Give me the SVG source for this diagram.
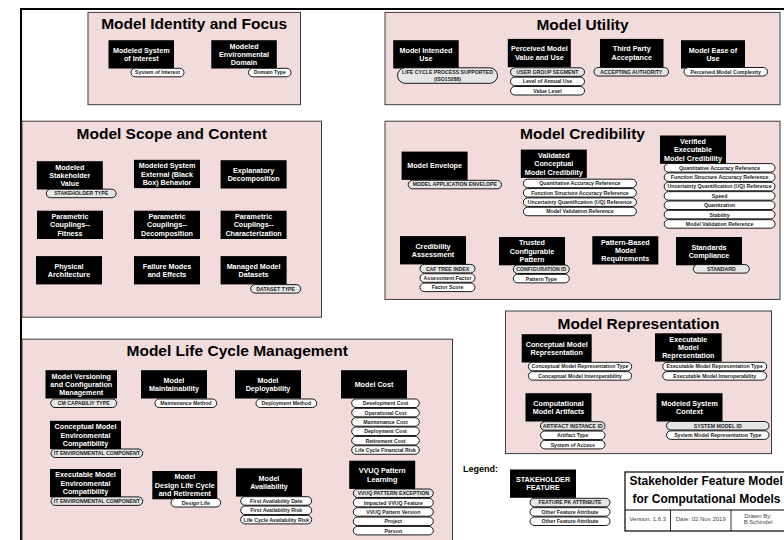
<svg xmlns="http://www.w3.org/2000/svg" width="784" height="540" viewBox="0 0 784 540">
<style>
.pn{fill:#f2dcdb;stroke:#3c3c3c;stroke-width:1}
.tt{font-family:'Liberation Sans',Arial,sans-serif;font-weight:bold;font-size:15.5px;text-anchor:middle;fill:#000}
.nb{fill:#000}
.nt{font-family:'Liberation Sans',Arial,sans-serif;font-weight:bold;font-size:7.2px;text-anchor:middle;fill:#fff}
.pw{fill:#fff;stroke:#000;stroke-width:0.9}
.pg{fill:#e6e6e6;stroke:#000;stroke-width:0.9}
.pt{font-family:'Liberation Sans',Arial,sans-serif;font-weight:bold;font-size:5.2px;text-anchor:middle;fill:#1a1a1a}
.tb{font-family:'Liberation Sans',Arial,sans-serif;font-size:6px;text-anchor:middle;fill:#444}
.bt{font-family:'Liberation Sans',Arial,sans-serif;font-weight:bold;font-size:12px;fill:#000}
</style>
<rect width="784" height="540" fill="#fff"/>
<g id="frame">
<line x1="20" y1="9" x2="784" y2="9" stroke="#000" stroke-width="2"/>
<line x1="21" y1="8" x2="21" y2="540" stroke="#000" stroke-width="2"/>
</g>
<g id="panels">
<rect class="pn" x="88" y="12.4" width="212.5" height="92.3"/>
<text class="tt" x="194.2" y="29">Model Identity and Focus</text>
<rect class="pn" x="385" y="12.4" width="395" height="92.3"/>
<text class="tt" x="582.5" y="29.5">Model Utility</text>
<rect class="pn" x="22" y="121.2" width="299.5" height="196"/>
<text class="tt" x="171.7" y="138.5">Model Scope and Content</text>
<rect class="pn" x="385" y="121.2" width="395" height="178.2"/>
<text class="tt" x="582.5" y="138.5">Model Credibility</text>
<rect class="pn" x="505.5" y="311" width="266" height="142.6"/>
<text class="tt" x="638.5" y="328.5">Model Representation</text>
<rect class="pn" x="22" y="339.2" width="430.5" height="205"/>
<text class="tt" x="237.2" y="356">Model Life Cycle Management</text>
</g>
<g id="connectors"/>

<g id="n-modeled-system-of-interest">
<rect class="nb" x="108.5" y="40.2" width="65.5" height="28.3"/>
<text class="nt" x="141.25"><tspan x="141.25" y="52.75">Modeled System</tspan><tspan x="141.25" y="61.15">of Interest</tspan></text>
<rect class="pw" x="131" y="68.3" width="53" height="8.5" rx="4.25"/>
<text class="pt" x="157.5" y="74.45">System of Interest</text>
</g>
<g id="n-modeled-environmental-domain">
<rect class="nb" x="211.3" y="40.2" width="65.5" height="28.3"/>
<text class="nt"><tspan x="244.05" y="48.55">Modeled</tspan><tspan x="244.05" y="56.95">Environmental</tspan><tspan x="244.05" y="65.35">Domain</tspan></text>
<rect class="pw" x="248.5" y="68.3" width="42.5" height="8.5" rx="4.25"/>
<text class="pt" x="269.75" y="74.45">Domain Type</text>
</g>

<g id="n-model-intended-use">
<rect class="nb" x="393.2" y="40.2" width="65.5" height="28.3"/>
<text class="nt"><tspan x="425.95" y="52.75">Model Intended</tspan><tspan x="425.95" y="61.15">Use</tspan></text>
<rect class="pg" x="397.5" y="67.8" width="100" height="15.5" rx="7.75"/>
<text class="pt"><tspan x="447.5" y="73.5">LIFE CYCLE PROCESS SUPPORTED</tspan><tspan x="447.5" y="80.8">(ISO15288)</tspan></text>
</g>
<g id="n-perceived-model-value">
<rect class="nb" x="507.8" y="38.9" width="63" height="28.3"/>
<text class="nt"><tspan x="539.3" y="51.45">Perceived Model</tspan><tspan x="539.3" y="59.85">Value and Use</tspan></text>
<rect class="pg" x="510.5" y="67.8" width="74" height="8.5" rx="4.25"/>
<text class="pt" x="547.5" y="73.95">USER GROUP SEGMENT</text>
<rect class="pw" x="510.5" y="77.15" width="74" height="8.5" rx="4.25"/>
<text class="pt" x="547.5" y="83.3">Level of Annual Use</text>
<rect class="pw" x="510.5" y="86.5" width="74" height="8.5" rx="4.25"/>
<text class="pt" x="547.5" y="92.65">Value Level</text>
</g>
<g id="n-third-party-acceptance">
<rect class="nb" x="600" y="38.9" width="63.5" height="28.3"/>
<text class="nt"><tspan x="631.75" y="51.45">Third Party</tspan><tspan x="631.75" y="59.85">Acceptance</tspan></text>
<rect class="pg" x="594" y="67.5" width="74.5" height="8.5" rx="4.25"/>
<text class="pt" x="631.25" y="73.65">ACCEPTING AUTHORITY</text>
</g>
<g id="n-model-ease-of-use">
<rect class="nb" x="681" y="40.2" width="64" height="28.3"/>
<text class="nt"><tspan x="713" y="52.75">Model Ease of</tspan><tspan x="713" y="61.15">Use</tspan></text>
<rect class="pw" x="684" y="67.5" width="83.5" height="8.5" rx="4.25"/>
<text class="pt" x="725.75" y="73.65">Perceived Model Complexity</text>
</g>

<g id="n-modeled-stakeholder-value">
<rect class="nb" x="36.8" y="161.2" width="66" height="28.3"/>
<text class="nt"><tspan x="69.8" y="169.55">Modeled</tspan><tspan x="69.8" y="177.95">Stakeholder</tspan><tspan x="69.8" y="186.35">Value</tspan></text>
<rect class="pg" x="46.3" y="189.2" width="69.8" height="8.5" rx="4.25"/>
<text class="pt" x="81.2" y="195.35">STAKEHOLDER TYPE</text>
</g>
<g id="n-external-behavior">
<rect class="nb" x="134" y="159.8" width="66" height="28.3"/>
<text class="nt"><tspan x="167" y="168.15">Modeled System</tspan><tspan x="167" y="176.55">External (Black</tspan><tspan x="167" y="184.95">Box) Behavior</tspan></text>
</g>
<g id="n-explanatory-decomposition">
<rect class="nb" x="220.6" y="160.2" width="66" height="28.3"/>
<text class="nt"><tspan x="253.6" y="172.75">Explanatory</tspan><tspan x="253.6" y="181.15">Decomposition</tspan></text>
</g>
<g id="n-pc-fitness">
<rect class="nb" x="37" y="210.7" width="66" height="28.3"/>
<text class="nt"><tspan x="70" y="219.05">Parametric</tspan><tspan x="70" y="227.45">Couplings--</tspan><tspan x="70" y="235.85">Fitness</tspan></text>
</g>
<g id="n-pc-decomposition">
<rect class="nb" x="134" y="210.7" width="66" height="28.3"/>
<text class="nt"><tspan x="167" y="219.05">Parametric</tspan><tspan x="167" y="227.45">Couplings--</tspan><tspan x="167" y="235.85">Decomposition</tspan></text>
</g>
<g id="n-pc-characterization">
<rect class="nb" x="220.6" y="210.7" width="66" height="28.3"/>
<text class="nt"><tspan x="253.6" y="219.05">Parametric</tspan><tspan x="253.6" y="227.45">Couplings--</tspan><tspan x="253.6" y="235.85">Characterization</tspan></text>
</g>
<g id="n-physical-architecture">
<rect class="nb" x="36" y="256.1" width="66" height="28.3"/>
<text class="nt"><tspan x="69" y="268.65">Physical</tspan><tspan x="69" y="277.05">Architecture</tspan></text>
</g>
<g id="n-failure-modes">
<rect class="nb" x="134" y="256.1" width="66" height="28.3"/>
<text class="nt"><tspan x="167" y="268.65">Failure Modes</tspan><tspan x="167" y="277.05">and Effects</tspan></text>
</g>
<g id="n-managed-datasets">
<rect class="nb" x="220.6" y="256.1" width="66" height="28.3"/>
<text class="nt"><tspan x="253.6" y="268.65">Managed Model</tspan><tspan x="253.6" y="277.05">Datasets</tspan></text>
<rect class="pg" x="250.7" y="284.6" width="50" height="8.5" rx="4.25"/>
<text class="pt" x="275.7" y="290.75">DATASET TYPE</text>
</g>

<g id="n-model-envelope">
<rect class="nb" x="401.6" y="151.6" width="66" height="28.3"/>
<text class="nt" x="434.6" y="168.35">Model Envelope</text>
<rect class="pg" x="408.2" y="180.3" width="93.3" height="8.5" rx="4.25"/>
<text class="pt" x="454.85" y="186.45">MODEL APPLICATION ENVELOPE</text>
</g>
<g id="n-validated-conceptual">
<rect class="nb" x="520.8" y="149.6" width="66" height="28.3"/>
<text class="nt"><tspan x="553.8" y="157.95">Validated</tspan><tspan x="553.8" y="166.35">Conceptual</tspan><tspan x="553.8" y="174.75">Model Credibility</tspan></text>
<rect class="pw" x="523.4" y="179.2" width="113" height="8.5" rx="4.25"/>
<text class="pt" x="579.9" y="185.35">Quantitative Accuracy Reference</text>
<rect class="pw" x="523.4" y="188.55" width="113" height="8.5" rx="4.25"/>
<text class="pt" x="579.9" y="194.7">Function Structure Accuracy Reference</text>
<rect class="pw" x="523.4" y="197.9" width="113" height="8.5" rx="4.25"/>
<text class="pt" x="579.9" y="204.05">Uncertainty Quantification (UQ) Reference</text>
<rect class="pw" x="523.4" y="207.25" width="113" height="8.5" rx="4.25"/>
<text class="pt" x="579.9" y="213.4">Model Validation Reference</text>
</g>
<g id="n-verified-executable">
<rect class="nb" x="660" y="135.5" width="66" height="28.3"/>
<text class="nt"><tspan x="693" y="143.85">Verified</tspan><tspan x="693" y="152.25">Executable</tspan><tspan x="693" y="160.65">Model Credibility</tspan></text>
<rect class="pw" x="664.2" y="163.6" width="110.8" height="8.5" rx="4.25"/>
<text class="pt" x="719.6" y="169.75">Quantitative Accuracy Reference</text>
<rect class="pw" x="664.2" y="172.95" width="110.8" height="8.5" rx="4.25"/>
<text class="pt" x="719.6" y="179.1">Function Structure Accuracy Reference</text>
<rect class="pw" x="664.2" y="182.3" width="110.8" height="8.5" rx="4.25"/>
<text class="pt" x="719.6" y="188.45">Uncertainty Quantification (UQ) Reference</text>
<rect class="pw" x="664.2" y="191.65" width="110.8" height="8.5" rx="4.25"/>
<text class="pt" x="719.6" y="197.8">Speed</text>
<rect class="pw" x="664.2" y="201" width="110.8" height="8.5" rx="4.25"/>
<text class="pt" x="719.6" y="207.15">Quantization</text>
<rect class="pw" x="664.2" y="210.35" width="110.8" height="8.5" rx="4.25"/>
<text class="pt" x="719.6" y="216.5">Stability</text>
<rect class="pw" x="664.2" y="219.7" width="110.8" height="8.5" rx="4.25"/>
<text class="pt" x="719.6" y="225.85">Model Validation Reference</text>
</g>
<g id="n-credibility-assessment">
<rect class="nb" x="400" y="236.1" width="66" height="28.3"/>
<text class="nt"><tspan x="433" y="248.65">Credibility</tspan><tspan x="433" y="257.05">Assessment</tspan></text>
<rect class="pg" x="420" y="264.4" width="55" height="8.5" rx="4.25"/>
<text class="pt" x="447.5" y="270.55">CAF TREE INDEX</text>
<rect class="pw" x="420" y="273.75" width="55" height="8.5" rx="4.25"/>
<text class="pt" x="447.5" y="279.9">Assessment Factor</text>
<rect class="pw" x="420" y="283.1" width="55" height="8.5" rx="4.25"/>
<text class="pt" x="447.5" y="289.25">Factor Score</text>
</g>
<g id="n-trusted-pattern">
<rect class="nb" x="499" y="237" width="66" height="28.3"/>
<text class="nt"><tspan x="532" y="245.35">Trusted</tspan><tspan x="532" y="253.75">Configurable</tspan><tspan x="532" y="262.15">Pattern</tspan></text>
<rect class="pg" x="513.3" y="265" width="56" height="8.5" rx="4.25"/>
<text class="pt" x="541.3" y="271.15">CONFIGURATION ID</text>
<rect class="pw" x="513.3" y="274.35" width="56" height="8.5" rx="4.25"/>
<text class="pt" x="541.3" y="280.5">Pattern Type</text>
</g>
<g id="n-pattern-based-requirements">
<rect class="nb" x="592.3" y="236.2" width="66" height="28.3"/>
<text class="nt"><tspan x="625.3" y="244.55">Pattern-Based</tspan><tspan x="625.3" y="252.95">Model</tspan><tspan x="625.3" y="261.35">Requirements</tspan></text>
</g>
<g id="n-standards-compliance">
<rect class="nb" x="676" y="237" width="66" height="28.3"/>
<text class="nt"><tspan x="709" y="249.55">Standards</tspan><tspan x="709" y="257.95">Compliance</tspan></text>
<rect class="pg" x="693.3" y="264.6" width="56" height="8.5" rx="4.25"/>
<text class="pt" x="721.3" y="270.75">STANDARD</text>
</g>

<g id="n-conceptual-representation">
<rect class="nb" x="521.7" y="334.2" width="70" height="28.3"/>
<text class="nt"><tspan x="556.7" y="346.75">Conceptual Model</tspan><tspan x="556.7" y="355.15">Representation</tspan></text>
<rect class="pw" x="528.3" y="362.3" width="103.4" height="8.5" rx="4.25"/>
<text class="pt" x="580" y="368.45">Conceptual Model Representation Type</text>
<rect class="pw" x="528.3" y="371.65" width="103.4" height="8.5" rx="4.25"/>
<text class="pt" x="580" y="377.8">Conceptual Model Interoperability</text>
</g>
<g id="n-executable-representation">
<rect class="nb" x="655" y="333.3" width="66.7" height="28.3"/>
<text class="nt"><tspan x="688.35" y="341.65">Executable</tspan><tspan x="688.35" y="350.05">Model</tspan><tspan x="688.35" y="358.45">Representation</tspan></text>
<rect class="pw" x="662.7" y="362.3" width="104" height="8.5" rx="4.25"/>
<text class="pt" x="714.7" y="368.45">Executable Model Representation Type</text>
<rect class="pw" x="662.7" y="371.65" width="104" height="8.5" rx="4.25"/>
<text class="pt" x="714.7" y="377.8">Executable Model Interoperability</text>
</g>
<g id="n-computational-artifacts">
<rect class="nb" x="525.5" y="393.2" width="66" height="28.3"/>
<text class="nt"><tspan x="558.5" y="405.75">Computational</tspan><tspan x="558.5" y="414.15">Model Artifacts</tspan></text>
<rect class="pg" x="540.5" y="421.7" width="64.5" height="8.5" rx="4.25"/>
<text class="pt" x="572.75" y="427.85">ARTIFACT INSTANCE ID</text>
<rect class="pw" x="540.5" y="431.05" width="64.5" height="8.5" rx="4.25"/>
<text class="pt" x="572.75" y="437.2">Artifact Type</text>
<rect class="pw" x="540.5" y="440.4" width="64.5" height="8.5" rx="4.25"/>
<text class="pt" x="572.75" y="446.55">System of Access</text>
</g>
<g id="n-modeled-system-context">
<rect class="nb" x="656.5" y="393.2" width="66" height="28.3"/>
<text class="nt"><tspan x="689.5" y="405.75">Modeled System</tspan><tspan x="689.5" y="414.15">Context</tspan></text>
<rect class="pg" x="666.5" y="421.5" width="102.5" height="8.5" rx="4.25"/>
<text class="pt" x="717.75" y="427.65">SYSTEM MODEL ID</text>
<rect class="pw" x="666.5" y="430.85" width="102.5" height="8.5" rx="4.25"/>
<text class="pt" x="717.75" y="437">System Model Representation Type</text>
</g>

<g id="n-versioning-configuration">
<rect class="nb" x="45.5" y="370.2" width="71.5" height="28.3"/>
<text class="nt"><tspan x="81.25" y="378.55">Model Versioning</tspan><tspan x="81.25" y="386.95">and Configuration</tspan><tspan x="81.25" y="395.35">Management</tspan></text>
<rect class="pg" x="50.7" y="399" width="66" height="8.5" rx="4.25"/>
<text class="pt" x="83.7" y="405.15">CM CAPABILIY TYPE</text>
</g>
<g id="n-maintainability">
<rect class="nb" x="141" y="370.2" width="66" height="28.3"/>
<text class="nt"><tspan x="174" y="382.75">Model</tspan><tspan x="174" y="391.15">Maintainability</tspan></text>
<rect class="pw" x="155" y="399" width="61.7" height="8.5" rx="4.25"/>
<text class="pt" x="185.85" y="405.15">Maintenance Method</text>
</g>
<g id="n-deployability">
<rect class="nb" x="235" y="370.2" width="66" height="28.3"/>
<text class="nt"><tspan x="268" y="382.75">Model</tspan><tspan x="268" y="391.15">Deployability</tspan></text>
<rect class="pw" x="256" y="399" width="60.7" height="8.5" rx="4.25"/>
<text class="pt" x="286.35" y="405.15">Deployment Method</text>
</g>
<g id="n-model-cost">
<rect class="nb" x="341" y="370.2" width="66" height="28.3"/>
<text class="nt" x="374" y="386.95">Model Cost</text>
<rect class="pw" x="351.7" y="399" width="67.6" height="8.5" rx="4.25"/>
<text class="pt" x="385.5" y="405.15">Development Cost</text>
<rect class="pw" x="351.7" y="408.35" width="67.6" height="8.5" rx="4.25"/>
<text class="pt" x="385.5" y="414.5">Operational Cost</text>
<rect class="pw" x="351.7" y="417.7" width="67.6" height="8.5" rx="4.25"/>
<text class="pt" x="385.5" y="423.85">Maintenance Cost</text>
<rect class="pw" x="351.7" y="427.05" width="67.6" height="8.5" rx="4.25"/>
<text class="pt" x="385.5" y="433.2">Deployment Cost</text>
<rect class="pw" x="351.7" y="436.4" width="67.6" height="8.5" rx="4.25"/>
<text class="pt" x="385.5" y="442.55">Retirement Cost</text>
<rect class="pw" x="351.7" y="445.75" width="67.6" height="8.5" rx="4.25"/>
<text class="pt" x="385.5" y="451.9">Life Cycle Financial Risk</text>
</g>
<g id="n-conceptual-env-compat">
<rect class="nb" x="50" y="420.8" width="71" height="28.3"/>
<text class="nt"><tspan x="85.5" y="429.15">Conceptual Model</tspan><tspan x="85.5" y="437.55">Environmental</tspan><tspan x="85.5" y="445.95">Compatibility</tspan></text>
<rect class="pg" x="51" y="449" width="91.7" height="8.5" rx="4.25"/>
<text class="pt" x="96.85" y="455.15">IT ENVIRONMENTAL COMPONENT</text>
</g>
<g id="n-executable-env-compat">
<rect class="nb" x="50" y="469" width="71" height="28.3"/>
<text class="nt"><tspan x="85.5" y="477.35">Executable Model</tspan><tspan x="85.5" y="485.75">Environmental</tspan><tspan x="85.5" y="494.15">Compatibility</tspan></text>
<rect class="pg" x="51" y="496.9" width="91.7" height="8.5" rx="4.25"/>
<text class="pt" x="96.85" y="503.05">IT ENVIRONMENTAL COMPONENT</text>
</g>
<g id="n-design-life-cycle">
<rect class="nb" x="152.3" y="471" width="65" height="28.3"/>
<text class="nt"><tspan x="184.8" y="479.35">Model</tspan><tspan x="184.8" y="487.75">Design Life Cycle</tspan><tspan x="184.8" y="496.15">and Retirement</tspan></text>
<rect class="pw" x="171" y="498.5" width="49.7" height="8.5" rx="4.25"/>
<text class="pt" x="195.85" y="504.65">Design Life</text>
</g>
<g id="n-model-availability">
<rect class="nb" x="236" y="468.3" width="66" height="28.3"/>
<text class="nt"><tspan x="269" y="480.85">Model</tspan><tspan x="269" y="489.25">Availability</tspan></text>
<rect class="pw" x="240.7" y="496.7" width="71" height="8.5" rx="4.25"/>
<text class="pt" x="276.2" y="502.85">First Availability Date</text>
<rect class="pw" x="240.7" y="506.05" width="71" height="8.5" rx="4.25"/>
<text class="pt" x="276.2" y="512.2">First Availability Risk</text>
<rect class="pw" x="240.7" y="515.4" width="71" height="8.5" rx="4.25"/>
<text class="pt" x="276.2" y="521.55">Life Cycle Availability Risk</text>
</g>
<g id="n-vvuq-pattern-learning">
<rect class="nb" x="349.2" y="460.7" width="66" height="28.3"/>
<text class="nt"><tspan x="382.2" y="473.25">VVUQ Pattern</tspan><tspan x="382.2" y="481.65">Learning</tspan></text>
<rect class="pg" x="353.3" y="489" width="80" height="8.5" rx="4.25"/>
<text class="pt" x="393.3" y="495.15">VVUQ PATTERN EXCEPTION</text>
<rect class="pw" x="353.3" y="498.35" width="80" height="8.5" rx="4.25"/>
<text class="pt" x="393.3" y="504.5">Impacted VVUQ Feature</text>
<rect class="pw" x="353.3" y="507.7" width="80" height="8.5" rx="4.25"/>
<text class="pt" x="393.3" y="513.85">VVUQ Pattern Version</text>
<rect class="pw" x="353.3" y="517.05" width="80" height="8.5" rx="4.25"/>
<text class="pt" x="393.3" y="523.2">Project</text>
<rect class="pw" x="353.3" y="526.4" width="80" height="8.5" rx="4.25"/>
<text class="pt" x="393.3" y="532.55">Person</text>
</g>

<g id="legend">
<text x="463" y="472.2" font-family="'Liberation Sans',Arial,sans-serif" font-weight="bold" font-size="9px" fill="#000">Legend:</text>
<g id="n-legend-stakeholder-feature">
<rect class="nb" x="510" y="469.5" width="66" height="28.3"/>
<text class="nt"><tspan x="543" y="482.05">STAKEHOLDER</tspan><tspan x="543" y="490.45">FEATURE</tspan></text>
<rect class="pg" x="530" y="498.3" width="80" height="8.5" rx="4.25"/>
<text class="pt" x="570" y="504.45">FEATURE PK ATTRIBUTE</text>
<rect class="pw" x="530" y="507.65" width="80" height="8.5" rx="4.25"/>
<text class="pt" x="570" y="513.8">Other Feature Attribute</text>
<rect class="pw" x="530" y="517" width="80" height="8.5" rx="4.25"/>
<text class="pt" x="570" y="523.15">Other Feature Attribute</text>
</g>
</g>

<g id="title-block">
<rect x="625" y="472" width="170" height="59" fill="#fff" stroke="#000" stroke-width="1.2"/>
<line x1="625" y1="510" x2="795" y2="510" stroke="#000" stroke-width="1"/>
<line x1="670.5" y1="510" x2="670.5" y2="531" stroke="#000" stroke-width="0.8"/>
<line x1="731" y1="510" x2="731" y2="531" stroke="#000" stroke-width="0.8"/>
<text class="bt" x="629.5" y="485.1">Stakeholder Feature Model</text>
<text class="bt" x="632.5" y="502.7">for Computational Models</text>
<text class="tb" x="647.75" y="520.8">Version: 1.6.3</text>
<text class="tb" x="700.75" y="520.8">Date: 02 Nov 2019</text>
<text class="tb"><tspan x="758" y="518.1">Drawn By:</tspan><tspan x="758" y="523.9">B Schindel</tspan></text>
</g>
</svg>
